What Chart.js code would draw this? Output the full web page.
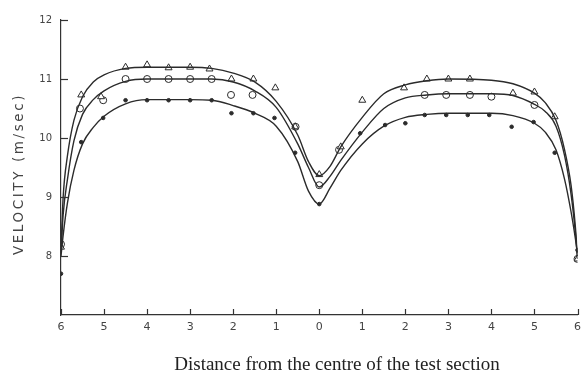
<!DOCTYPE html>
<html>
<head>
<meta charset="utf-8">
<script src="https://cdn.jsdelivr.net/npm/chart.js@4.4.1/dist/chart.umd.min.js"></script>
<style>
  html, body { margin: 0; padding: 0; background: #fff; }
  #wrap { width: 587px; height: 374px; }
</style>
</head>
<body>
<div id="wrap"><canvas id="myChart"></canvas></div>
<script>
// 曲線取樣位置 (distance from centre, left side negative)
const curveX = [-6, -5.95, -5.85, -5.7, -5.5, -5.25, -5, -4.5, -4, -3, -2.5, -2, -1.5, -1, -0.5, -0.25, 0,
  0.25, 0.5, 1, 1.5, 2, 2.5, 3, 4, 4.5, 5, 5.25, 5.5, 5.7, 5.85, 5.95, 6];
const topCurve = [8.1, 9.0, 9.7, 10.3, 10.7, 10.95, 11.07, 11.18, 11.2, 11.2, 11.18, 11.1, 10.95, 10.62, 10.05, 9.6, 9.36,
  9.52, 9.85, 10.35, 10.75, 10.9, 10.97, 11.0, 10.98, 10.92, 10.76, 10.6, 10.3, 9.8, 9.2, 8.5, 8.0];
const midCurve = [8.05, 8.7, 9.3, 9.95, 10.4, 10.65, 10.8, 10.96, 11.0, 11.0, 11.0, 10.95, 10.8, 10.52, 9.9, 9.5, 9.17,
  9.35, 9.62, 10.1, 10.5, 10.68, 10.73, 10.75, 10.75, 10.72, 10.57, 10.45, 10.2, 9.7, 9.05, 8.4, 7.95];
const botCurve = [8.0, 8.35, 8.9, 9.45, 9.9, 10.18, 10.37, 10.58, 10.65, 10.65, 10.64, 10.55, 10.42, 10.2, 9.6, 9.1, 8.88,
  9.15, 9.45, 9.9, 10.2, 10.35, 10.4, 10.42, 10.42, 10.38, 10.25, 10.1, 9.8, 9.3, 8.75, 8.3, 8.05];

// 量測點
const triX = [-6, -5.53, -5.07, -4.5, -4.0, -3.5, -3.0, -2.55, -2.04, -1.53, -1.02, -0.56, 0, 0.5, 1.0, 1.97, 2.5, 3.0, 3.5, 4.5, 5.0, 5.47, 6];
const triY = [8.15, 10.73, 10.7, 11.2, 11.24, 11.19, 11.2, 11.17, 11.0, 11.0, 10.85, 10.19, 9.38, 9.85, 10.64, 10.85, 11.0, 11.0, 11.0, 10.76, 10.78, 10.36, 7.95];
const circX = [-6, -5.56, -5.02, -4.5, -4.0, -3.5, -3.0, -2.5, -2.05, -1.55, -0.55, 0, 0.46, 2.45, 2.95, 3.5, 4.0, 5.0, 6];
const circY = [8.2, 10.5, 10.64, 11.0, 11.0, 11.0, 11.0, 11.0, 10.73, 10.73, 10.19, 9.2, 9.8, 10.73, 10.73, 10.73, 10.7, 10.56, 7.95];
const dotX = [-6, -5.53, -5.02, -4.5, -4.0, -3.5, -3.0, -2.5, -2.04, -1.53, -1.04, -0.56, 0, 0.95, 1.53, 2.0, 2.45, 2.95, 3.45, 3.95, 4.47, 4.98, 5.47, 6];
const dotY = [7.7, 9.93, 10.34, 10.64, 10.64, 10.64, 10.64, 10.64, 10.42, 10.42, 10.34, 9.75, 8.88, 10.08, 10.22, 10.25, 10.39, 10.39, 10.39, 10.39, 10.19, 10.27, 9.75, 8.1];

const xTicks = [-6, -5, -4, -3, -2, -1, 0, 1, 2, 3, 4, 5, 6];
const yTicks = [8, 9, 10, 11, 12];

function pts(xs, ys) {
  return xs.map((x, i) => ({ x: x, y: ys[i] }));
}

const ink = '#2b2b2b';

function curve(ys) {
  return {
    type: 'line',
    data: pts(curveX, ys),
    borderColor: ink,
    borderWidth: 1.4,
    pointRadius: 0,
    cubicInterpolationMode: 'monotone',
    fill: false,
  };
}

function marks(xs, ys, style, r, bg) {
  return {
    type: 'scatter',
    data: pts(xs, ys),
    pointStyle: style,
    pointRadius: r,
    pointBackgroundColor: bg,
    pointBorderColor: ink,
    pointBorderWidth: 1,
  };
}

// 內側刻度與標題
const extras = {
  id: 'extras',
  afterDraw(chart) {
    const ctx = chart.ctx;
    const xs = chart.scales.x, ys = chart.scales.y;
    const a = chart.chartArea;
    ctx.save();
    ctx.strokeStyle = '#333';
    ctx.lineWidth = 1.2;
    xTicks.forEach(v => {
      const px = Math.round(xs.getPixelForValue(v)) + 0.5;
      ctx.beginPath();
      ctx.moveTo(px, a.bottom);
      ctx.lineTo(px, a.bottom - 6);
      ctx.stroke();
    });
    yTicks.forEach(v => {
      const py = Math.round(ys.getPixelForValue(v)) + 0.5;
      ctx.beginPath();
      ctx.moveTo(a.left, py);
      ctx.lineTo(a.left + 7, py);
      ctx.stroke();
    });
    ctx.fillStyle = '#222';
    ctx.font = '19px "Liberation Serif", serif';
    ctx.textAlign = 'center';
    ctx.textBaseline = 'middle';
    ctx.fillText('Distance from the centre of the test section', 337, 365);
    ctx.translate(19, 174);
    ctx.rotate(-Math.PI / 2);
    ctx.font = '13.5px "DejaVu Sans", sans-serif';
    ctx.letterSpacing = '2.6px';
    ctx.fillStyle = '#444';
    ctx.fillText('VELOCITY (m/sec)', 0, 0);
    ctx.restore();
  }
};

var ctx1 = document.getElementById('myChart').getContext('2d');
const myChart = new Chart(ctx1, {
  data: {
    datasets: [
      curve(topCurve), curve(midCurve), curve(botCurve),
      marks(triX, triY, 'triangle', 4, '#fff'),
      marks(circX, circY, 'circle', 3.5, '#fff'),
      marks(dotX, dotY, 'circle', 1.8, ink),
    ],
  },
  options: {
    responsive: true,
    maintainAspectRatio: false,
    animation: false,
    events: [],
    layout: { padding: { left: 0, right: 7, top: 20, bottom: 0 } },
    plugins: { legend: { display: false }, tooltip: { enabled: false } },
    scales: {
      x: {
        type: 'linear',
        min: -6,
        max: 6,
        afterFit: s => { s.height = 59; },
        afterBuildTicks: s => { s.ticks = xTicks.map(v => ({ value: v })); },
        grid: { display: false, drawTicks: false },
        border: { display: true, color: '#333', width: 1.2 },
        ticks: {
          padding: 6,
          color: '#444',
          font: { family: 'DejaVu Sans', size: 11 },
          callback: v => Math.abs(v),
          maxRotation: 0,
        },
      },
      y: {
        min: 7,
        max: 12,
        afterFit: s => { s.width = 61; },
        afterBuildTicks: s => { s.ticks = yTicks.map(v => ({ value: v })); },
        grid: { display: false, drawTicks: false },
        border: { display: true, color: '#333', width: 1.2 },
        ticks: {
          padding: 9,
          color: '#444',
          font: { family: 'DejaVu Sans', size: 10 },
        },
      },
    },
  },
  plugins: [extras],
});
</script>
</body>
</html>
